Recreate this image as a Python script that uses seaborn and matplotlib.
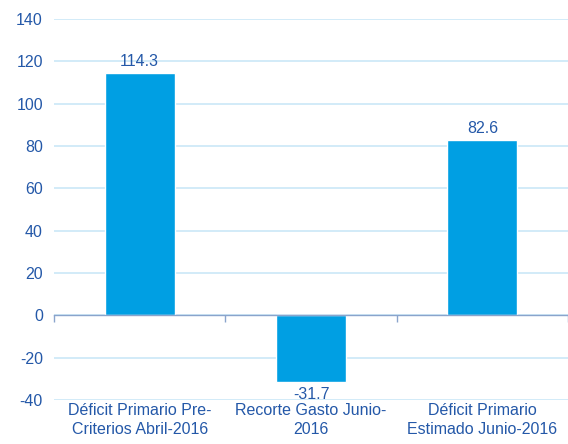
import matplotlib
matplotlib.use("Agg")
import matplotlib.pyplot as plt
import seaborn as sns
import pandas as pd

categories = ["Déficit Primario Pre-\nCriterios Abril-2016",
              "Recorte Gasto Junio-\n2016",
              "Déficit Primario\nEstimado Junio-2016"]
values = [114.3, -31.7, 82.6]
yticks = [-40, -20, 0, 20, 40, 60, 80, 100, 120, 140]

sns.set_theme(style="white")
plt.rcParams['font.family'] = ['Liberation Sans', 'DejaVu Sans']
plt.rcParams['axes.unicode_minus'] = False

txt = '#2458a8'
bar_color = '#009fe3'
grid_color = '#cbe8f7'
fs = 11.5

df = pd.DataFrame({"cat": categories, "val": values})

fig = plt.figure(figsize=(5.68, 4.44), dpi=100)
ax = fig.add_axes([54/568, 44/444, 1 - 54/568, (425-44)/444])

sns.barplot(data=df, x="cat", y="val", color=bar_color, width=0.41,
            saturation=1, ax=ax, zorder=3)

ax.set_ylim(-40, 140)
ax.set_xlim(-0.5, 2.5)
ax.set_yticks(yticks)
ax.yaxis.grid(True, color=grid_color, linewidth=1.2, zorder=0)
ax.set_axisbelow(True)
ax.set_xlabel("")
ax.set_ylabel("")

for s in ["left", "right", "top"]:
    ax.spines[s].set_visible(False)
ax.spines["bottom"].set_position(("data", 0))
ax.spines["bottom"].set_color("#8aa4cc")
ax.spines["bottom"].set_linewidth(1.0)
ax.spines["bottom"].set_zorder(4)

ax.set_xticks([-0.5, 0.5, 1.5, 2.5], minor=True)
ax.tick_params(axis="x", which="minor", direction="out", length=5,
               color="#8aa4cc", width=1, bottom=True)
ax.tick_params(axis="x", which="major", length=0, pad=63,
               labelsize=fs, labelcolor=txt)
ax.tick_params(axis="y", length=0, labelsize=fs, labelcolor=txt, pad=8)
for lab in ax.get_xticklabels():
    lab.set_verticalalignment("top")
    lab.set_linespacing(1.35)

for cont in ax.containers:
    ax.bar_label(cont, labels=[f"{v:.1f}" for v in values], padding=3,
                 fontsize=fs, color=txt)

fig.savefig("out.png", dpi=100)
